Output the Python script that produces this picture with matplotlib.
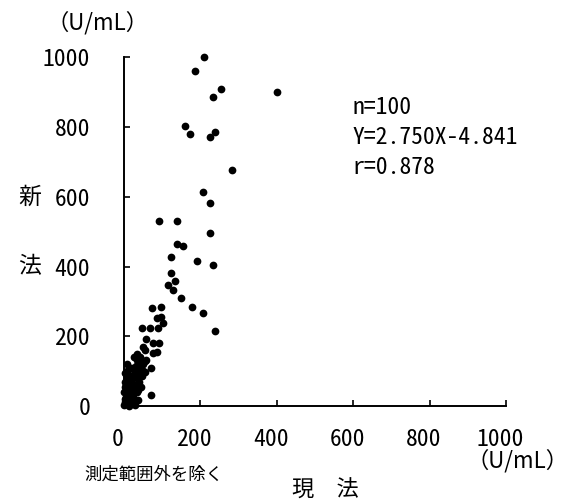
import matplotlib
matplotlib.use("Agg")
import matplotlib.pyplot as plt
from matplotlib.transforms import ScaledTranslation

plt.rcParams['font.family'] = ['Noto Sans Mono CJK JP', 'Noto Sans CJK JP', 'DejaVu Sans']

# data (current method x, new method y)
x_vals = [210, 188, 256, 402, 233, 161, 174, 240, 226, 283,
          209, 226, 94, 141, 226, 141, 155, 124, 192, 233,
          124, 117, 134, 130, 151, 178, 208, 239,
          74, 97, 87, 97, 104, 91, 49, 69, 60, 78,
          93, 50, 56, 78, 88, 34, 47, 60, 26, 41,
          56, 73, 8, 26, 17, 30, 4, 8, 26, 39,
          4, 17, 73, 0,
          2, 5, 3, 6, 10, 12, 15, 20, 22, 18,
          28, 30, 35, 32, 40, 42, 45, 38, 12, 25,
          8, 3, 15, 6, 20, 27, 36, 44, 50, 52,
          10, 34, 45, 30, 22, 14, 48, 55]
y_vals = [1002, 960, 909, 901, 886, 803, 780, 785, 773, 676,
          613, 583, 531, 531, 497, 464, 460, 427, 415, 404,
          381, 347, 359, 333, 311, 285, 266, 214,
          280, 285, 252, 256, 239, 223, 225, 225, 191, 182,
          180, 170, 161, 151, 155, 132, 122, 132, 108, 103,
          98, 108, 84, 79, 65, 55, 55, 36, 27, 17,
          12, 8, 32, 3,
          40, 70, 95, 25, 15, 48, 90, 110, 45, 30,
          60, 95, 80, 115, 70, 90, 110, 45, 5, 12,
          120, 20, 0, 60, 75, 140, 150, 140, 120, 100,
          100, 40, 55, 2, 22, 62, 85, 130]

ticks = [0, 200, 400, 600, 800, 1000]
tick_labels = ['0', '200', '400', '600', '800', '1000']

W, H = 570, 503
fig = plt.figure(figsize=(W / 100, H / 100), dpi=100)
ax = fig.add_axes([123.5 / W, (H - 406) / H, (506 - 123.5) / W, (406 - 57.5) / H])

ax.scatter(x_vals, y_vals, s=31, color='black', linewidths=0, zorder=3, clip_on=False)

ax.set_xlim(0, 1000)
ax.set_ylim(0, 1000)
ax.set_xticks(ticks)
ax.set_yticks(ticks)
ax.set_xticklabels(tick_labels)
ax.set_yticklabels(tick_labels)
for s in ['top', 'right']:
    ax.spines[s].set_visible(False)
for s in ['left', 'bottom']:
    ax.spines[s].set_linewidth(1.4)
ax.tick_params(axis='both', direction='in', length=4, width=1.2, labelsize=17)
ax.tick_params(axis='x', pad=16)
ax.tick_params(axis='y', pad=24)
off = ScaledTranslation(-5.5 / 100, 0, fig.dpi_scale_trans)
for lab in ax.get_xticklabels():
    lab.set_transform(lab.get_transform() + off)

def ftext(px, py, s, **kw):
    fig.text(px / W, 1 - py / H, s, **kw)

unit_font = ['Noto Sans CJK JP', 'DejaVu Sans']
ftext(97, 23, '（U/mL）', ha='center', va='center', fontsize=16, family=unit_font)
ftext(30, 197, '新', ha='center', va='center', fontsize=16.5)
ftext(30, 267, '法', ha='center', va='center', fontsize=16.5)
ftext(517, 461, '（U/mL）', ha='center', va='center', fontsize=16, family=unit_font)
ftext(154, 475, '測定範囲外を除く', ha='center', va='center', fontsize=12.5)
ftext(325, 491, '現　法', ha='center', va='center', fontsize=16)

ftext(352, 108, 'n=100', ha='left', va='center', fontsize=17)
ftext(352, 137, 'Y=2.750X-4.841', ha='left', va='center', fontsize=17)
ftext(352, 168, 'r=0.878', ha='left', va='center', fontsize=17)

fig.savefig('out.png', dpi=100)
